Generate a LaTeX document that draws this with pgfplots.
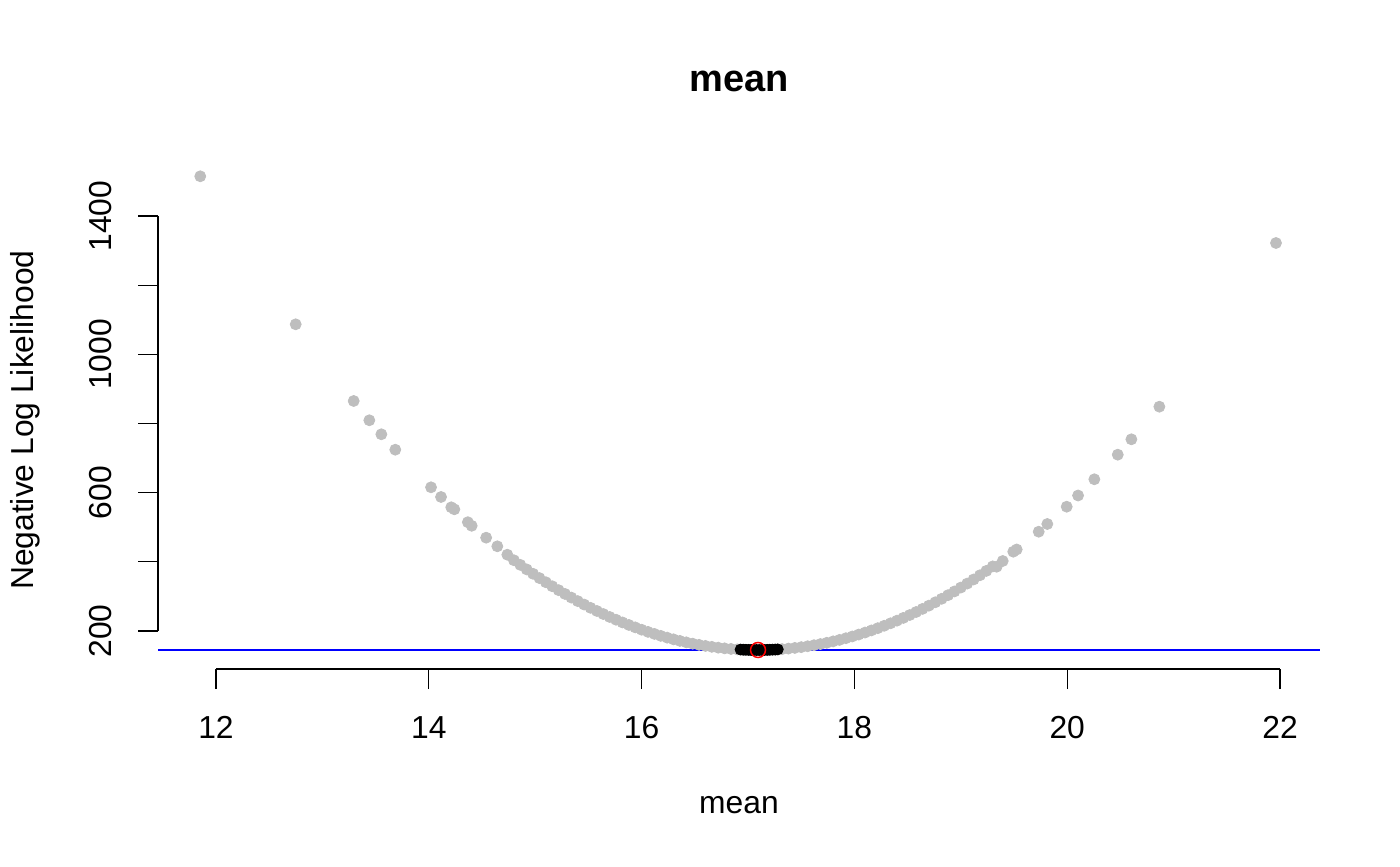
\documentclass[border=0pt]{standalone}
\usepackage{fontspec}
\setmainfont{Liberation Sans}
\usepackage{pgfplots}
\pgfplotsset{compat=1.18}
\definecolor{rgray}{HTML}{BEBEBE}
\begin{document}
\begin{tikzpicture}
\path[use as bounding box] (0,0) rectangle (700pt,433pt);
\begin{axis}[
  at={(79pt,98.5pt)}, anchor=south west,
  scale only axis, width=581pt, height=256pt,
  xmin=11.4549, xmax=22.3759, ymin=90.12, ymax=1570.6,
  clip=false,
  axis x line*=bottom, axis y line*=left,
  axis line style={draw=none},
  tick align=outside, major tick length=10pt,
  tick style={black, line width=0.55pt},
  xtick={12,14,16,18,20,22},
  ytick={200,400,600,800,1000,1200,1400},
  yticklabels={200,,600,,1000,,1400},
  /pgf/number format/assume math mode=true,
  font=\fontsize{15.9pt}{18pt}\selectfont,
  xticklabel style={anchor=base, inner sep=0pt, yshift=-24.75pt},
  yticklabel style={xshift=-13.25pt, rotate=90, anchor=base, inner sep=0pt},
  every axis x label/.style={at={(axis description cs:0.5,-0.2818)}, anchor=base},
  every axis y label/.style={at={(axis description cs:-0.10714,0.486)}, rotate=90, anchor=base},
  every axis title/.style={at={(axis description cs:0.5,1.1275)}, anchor=base, font=\bfseries\fontsize{19pt}{22pt}\selectfont},
  title={mean}, xlabel={mean}, ylabel={Negative Log Likelihood},
]
\draw[black, line width=0.55pt] (axis cs:12,90.12) -- (axis cs:22,90.12);
\draw[black, line width=0.55pt] (axis cs:11.4549,200) -- (axis cs:11.4549,1400);
% gray points
\addplot[only marks, mark=*, mark size=2.75pt, color=rgray, mark options={draw=rgray, fill=rgray}] coordinates {
(11.852,1514.8) (12.749,1086.8) (13.294,865.1) (13.441,809.3) (13.554,768.8) (13.685,724.2)
(14.021,615.5) (14.115,587.5) (14.211,557.7) (14.240,551.9) (14.367,514.6) (14.403,504.2)
(14.539,469.8) (14.644,444.9) (14.738,420.6)
(14.80,404.6) (14.86,391.2) (14.92,378.1) (14.98,365.4) (15.04,353.0) (15.10,341.0)
(15.16,329.4) (15.22,318.1) (15.28,307.2) (15.34,296.6) (15.40,286.4) (15.46,276.5)
(15.52,267.0) (15.58,257.9) (15.64,249.1) (15.70,240.6) (15.76,232.6) (15.82,224.8)
(15.88,217.5) (15.94,210.5) (16.00,203.8) (16.06,197.5) (16.12,191.6) (16.18,186.0)
(16.24,180.8) (16.30,175.9) (16.36,171.4) (16.42,167.2) (16.48,163.4) (16.54,160.0)
(16.60,156.9) (16.66,154.2) (16.72,151.8) (16.78,149.8) (16.84,148.1) (16.90,146.8)
(16.96,145.8) (17.02,145.2) (17.08,145.0) (17.14,145.1) (17.20,145.6) (17.26,146.4)
(17.32,147.6) (17.38,149.2) (17.44,151.1) (17.50,153.3) (17.56,155.9) (17.62,158.9)
(17.68,162.2) (17.74,165.9) (17.80,170.0) (17.86,174.3) (17.92,179.1) (17.98,184.2)
(18.04,189.7) (18.10,195.5) (18.16,201.7) (18.22,208.2) (18.28,215.1) (18.34,222.3)
(18.40,229.9) (18.46,237.9) (18.52,246.2) (18.58,254.9) (18.64,263.9) (18.70,273.3)
(18.76,283.0) (18.82,293.1) (18.88,303.6) (18.94,314.4) (19.00,325.6) (19.06,337.1)
(19.12,349.0) (19.18,361.2) (19.24,373.8) (19.30,386.8)
(19.337,385.9) (19.394,402.4) (19.493,429.3) (19.525,435.7) (19.732,487.1) (19.813,509.4)
(19.995,559.4) (20.102,591.8) (20.255,638.7) (20.475,709.8) (20.603,754.3) (20.866,848.6)
(21.962,1321.9)
};
% black points near minimum
\addplot[only marks, mark=*, mark size=2.75pt, color=black] coordinates {
(16.930,146.3) (16.955,145.9) (16.980,145.6) (17.005,145.4) (17.030,145.2) (17.055,145.1)
(17.080,145.0) (17.105,145.0) (17.130,145.1) (17.155,145.2) (17.180,145.4) (17.205,145.7)
(17.230,146.0) (17.255,146.3) (17.280,146.8)
};
% horizontal blue line
\addplot[blue, line width=0.6pt] coordinates {(11.4549,145.1) (22.3759,145.1)};
% red circle at minimum
\addplot[only marks, mark=o, mark size=3.75pt, red, mark options={line width=0.75pt}] coordinates {(17.094,145.1)};
\end{axis}
\end{tikzpicture}
\end{document}
